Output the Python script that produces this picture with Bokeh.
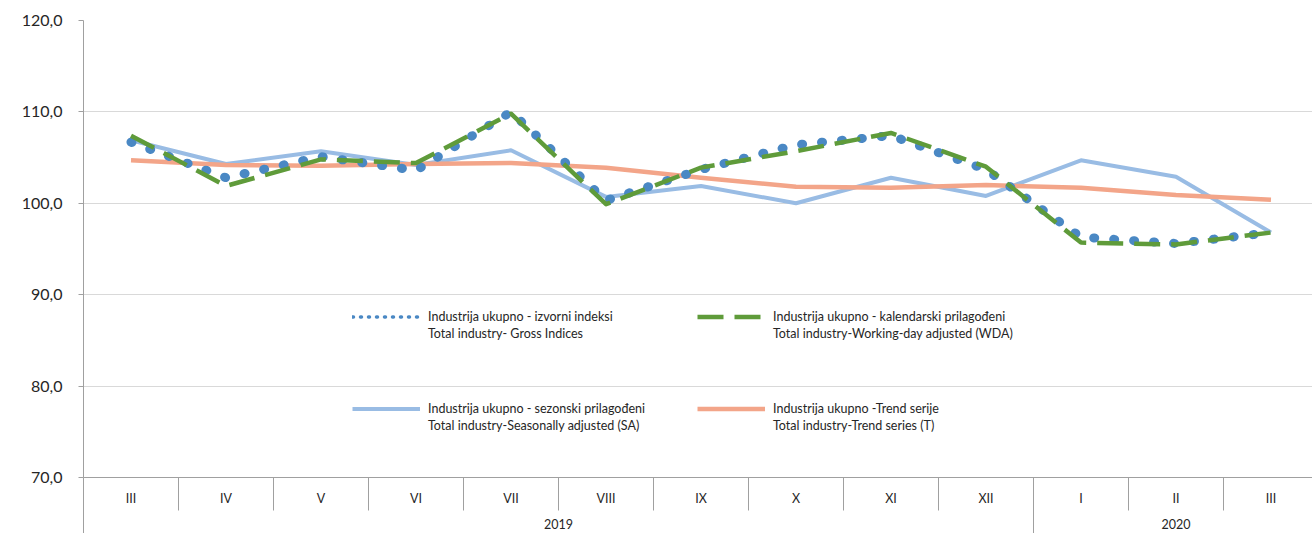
from bokeh.plotting import figure
from bokeh.models import (Range1d, FixedTicker, LinearAxis, CustomJSTickFormatter,
                          Legend, LegendItem)
from bokeh.embed import file_html
from bokeh.resources import INLINE

# ---------------- data ----------------
months = ["III", "IV", "V", "VI", "VII", "VIII", "IX", "X", "XI", "XII", "I", "II", "III"]
years = ["2019", "2020"]
months_per_year = [10, 3]

gross = [106.7, 102.8, 105.1, 103.6, 110.0, 100.3, 103.7, 106.4, 107.4, 103.7, 96.3, 95.6, 96.8]
wda = [107.4, 101.9, 104.8, 104.4, 109.8, 99.9, 103.9, 105.7, 107.7, 104.0, 95.7, 95.5, 96.8]
sa = [106.9, 104.3, 105.7, 104.2, 105.8, 100.7, 101.9, 100.0, 102.8, 100.8, 104.7, 102.9, 96.8]
trend = [104.7, 104.2, 104.1, 104.3, 104.4, 103.9, 102.8, 101.8, 101.7, 102.0, 101.7, 100.9, 100.4]

y_ticks = [70, 80, 90, 100, 110, 120]

legend_labels = [
    ("Industrija ukupno - izvorni indeksi", "Total industry- Gross Indices"),
    ("Industrija ukupno - kalendarski prilagođeni", "Total industry-Working-day adjusted (WDA)"),
    ("Industrija ukupno - sezonski prilagođeni", "Total industry-Seasonally adjusted (SA)"),
    ("Industrija ukupno -Trend serije", "Total industry-Trend series (T)"),
]

# ---------------- style ----------------
BLUE = "#4A88C4"
GREEN = "#5F9B3A"
LIGHT_BLUE = "#99BCE4"
SALMON = "#F3A589"
TEXT = "#262626"
AXIS = "#A0A0A0"
GRID = "#D9D9D9"
FONT = "Lato"

pos = list(range(1, len(months) + 1))
boundaries = [i - 0.5 for i in pos] + [len(pos) + 0.5]

year_centers = []
year_bounds = []
start = 0.5
for c in months_per_year:
    year_bounds.append(start)
    year_centers.append(start + c / 2.0)
    start += c
year_bounds.append(start)

p = figure(width=1312, height=533, output_backend="svg", toolbar_location=None,
           x_range=Range1d(0.5, 13.437), y_range=Range1d(70, 120),
           x_axis_type=None,
           min_border_left=83, min_border_right=0, min_border_top=20, min_border_bottom=56)
p.outline_line_color = None
p.background_fill_color = "white"
p.border_fill_color = "white"

# y axis
yax = p.yaxis[0]
yax.ticker = FixedTicker(ticks=y_ticks)
yax.formatter = CustomJSTickFormatter(code="return tick.toFixed(1).replace('.', ',');")
yax.major_tick_out = 5
yax.major_tick_in = 0
yax.minor_tick_out = 0
yax.minor_tick_in = 0
yax.axis_line_color = AXIS
yax.major_tick_line_color = AXIS
yax.major_label_text_font = FONT
yax.major_label_text_font_size = "16px"
yax.major_label_text_color = TEXT
yax.major_label_standoff = 16
p.ygrid.ticker = FixedTicker(ticks=y_ticks)
p.ygrid.grid_line_color = GRID
p.ygrid.grid_line_width = 1

# month axis (separators drawn as minor ticks)
month_axis = LinearAxis(
    ticker=FixedTicker(ticks=pos, minor_ticks=boundaries),
    formatter=CustomJSTickFormatter(args=dict(labels=months),
                                    code="const i = Math.round(tick) - 1; return (i >= 0 && i < labels.length) ? labels[i] : '';"),
    major_tick_out=0, major_tick_in=0,
    minor_tick_out=33, minor_tick_in=0,
    minor_tick_line_color=AXIS, minor_tick_line_width=1,
    axis_line_color=AXIS,
    major_label_text_font=FONT, major_label_text_font_size="12.5px",
    major_label_text_color=TEXT, major_label_standoff=-20,
)
p.add_layout(month_axis, "below")

# year axis
year_axis = LinearAxis(
    ticker=FixedTicker(ticks=year_centers, minor_ticks=year_bounds),
    formatter=CustomJSTickFormatter(args=dict(centers=year_centers, names=years),
                                    code="const k = centers.indexOf(tick); return k >= 0 ? names[k] : '';"),
    major_tick_out=0, major_tick_in=0,
    minor_tick_out=26, minor_tick_in=0,
    minor_tick_line_color=AXIS, minor_tick_line_width=1,
    axis_line_color=None,
    major_label_text_font=FONT, major_label_text_font_size="12.5px",
    major_label_text_color=TEXT, major_label_standoff=-16,
)
p.add_layout(year_axis, "below")

# ---------------- series ----------------
r_sa = p.line(pos, sa, line_color=LIGHT_BLUE, line_width=4, line_join="round")
r_trend = p.line(pos, trend, line_color=SALMON, line_width=4.5, line_join="round")
r_gross = p.line(pos, gross, line_color=BLUE, line_width=9, line_dash="1 19",
                 line_cap="round", line_join="round")
r_wda = p.line(pos, wda, line_color=GREEN, line_width=4.5, line_dash="26 11",
               line_join="round")

# legend-only sample for the dotted series (smaller dots, as in the original legend);
# its values are all missing so nothing is drawn in the plot area
nan_vals = [float("nan")] * len(pos)
r_gross_sample = p.line(pos, nan_vals, line_color=BLUE, line_width=3.5, line_dash="1 7",
                        line_cap="round")
r_blank = p.line(pos, nan_vals, line_alpha=0)


def add_legend(renderer, labels, x, y):
    leg = Legend(items=[LegendItem(label=labels[0], renderers=[renderer]),
                        LegendItem(label=labels[1], renderers=[r_blank])],
                 location=(x, y), orientation="vertical",
                 padding=0, margin=0, spacing=0,
                 border_line_color=None, background_fill_alpha=0,
                 glyph_width=68, glyph_height=17, label_height=17, label_standoff=8,
                 label_text_font=FONT, label_text_font_size="12.5px",
                 label_text_color=TEXT)
    p.add_layout(leg, "center")


add_legend(r_gross_sample, legend_labels[0], 269, 135)
add_legend(r_wda, legend_labels[1], 614, 135)
add_legend(r_sa, legend_labels[2], 269, 43)
add_legend(r_trend, legend_labels[3], 614, 43)

open("out.html", "w").write(file_html(p, INLINE))
